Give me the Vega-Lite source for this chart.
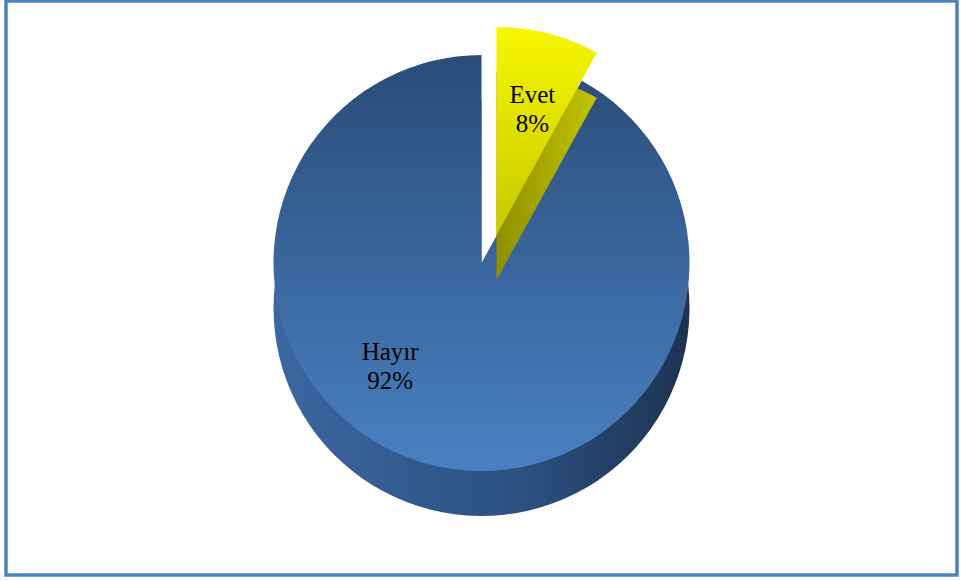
{
  "$schema": "https://vega.github.io/schema/vega-lite/v6.json",
  "autosize": {"type": "fit", "contains": "padding"},
  "width": 961,
  "height": 581,
  "padding": {"left": 6, "top": 1, "right": 4, "bottom": 6},
  "background": "white",
  "view": {"stroke": "#4f81bd", "strokeWidth": 3.5},
  "config": {"view": {"stroke": "#4f81bd", "strokeWidth": 3.5}},
  "data": {"values": [
    {"category": "Evet", "value": 8, "order": 1, "label": "Evet\n8%"},
    {"category": "Hayır", "value": 92, "order": 2, "label": "Hayır\n92%"}
  ]},
  "encoding": {
    "theta": {"field": "value", "type": "quantitative", "stack": true},
    "order": {"field": "order", "type": "quantitative"}
  },
  "layer": [
    {
      "mark": {"type": "arc", "radius": 208, "yOffset": 20, "fill": {"gradient": "linear", "x1": 0, "x2": 1, "y1": 0, "y2": 0, "stops": [{"offset": 0, "color": "#3b67a0"}, {"offset": 0.6, "color": "#2c5080"}, {"offset": 1, "color": "#1c3352"}]}},
      "encoding": {"opacity": {"condition": {"test": "datum.category === 'Hayır'", "value": 1}, "value": 0}}
    },
    {
      "mark": {"type": "arc", "radius": 208, "yOffset": -25, "fill": {"gradient": "linear", "x1": 0, "x2": 0, "y1": 0, "y2": 1, "stops": [{"offset": 0, "color": "#2a4c78"}, {"offset": 1, "color": "#4a80c2"}]}},
      "encoding": {"opacity": {"condition": {"test": "datum.category === 'Hayır'", "value": 1}, "value": 0}}
    },
    {
      "mark": {"type": "arc", "radius": 208, "xOffset": 15, "yOffset": -8, "fill": {"gradient": "linear", "x1": 0, "x2": 1, "y1": 0, "y2": 0, "stops": [{"offset": 0, "color": "#8f8f00"}, {"offset": 1, "color": "#c4c400"}]}},
      "encoding": {"opacity": {"condition": {"test": "datum.category === 'Evet'", "value": 1}, "value": 0}}
    },
    {
      "mark": {"type": "arc", "radius": 208, "xOffset": 15, "yOffset": -53, "fill": {"gradient": "linear", "x1": 0, "x2": 0, "y1": 0, "y2": 1, "stops": [{"offset": 0, "color": "#f7f700"}, {"offset": 1, "color": "#c8c800"}]}},
      "encoding": {"opacity": {"condition": {"test": "datum.category === 'Evet'", "value": 1}, "value": 0}}
    },
    {
      "mark": {"type": "text", "radius": 160, "xOffset": 11, "yOffset": -38, "font": "Liberation Serif", "fontSize": 25, "color": "black", "lineBreak": "\n", "lineHeight": 29, "align": "center", "baseline": "middle"},
      "encoding": {
        "text": {"field": "label", "type": "nominal"},
        "opacity": {"condition": {"test": "datum.category === 'Evet'", "value": 1}, "value": 0}
      }
    },
    {
      "mark": {"type": "text", "radius": 110, "xOffset": -64, "yOffset": -43, "font": "Liberation Serif", "fontSize": 25, "color": "black", "lineBreak": "\n", "lineHeight": 29, "align": "center", "baseline": "middle"},
      "encoding": {
        "text": {"field": "label", "type": "nominal"},
        "opacity": {"condition": {"test": "datum.category === 'Hayır'", "value": 1}, "value": 0}
      }
    }
  ]
}
